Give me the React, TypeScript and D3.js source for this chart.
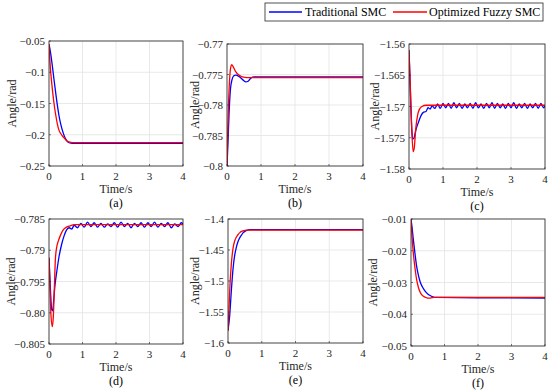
import React from "react";
import * as d3 from "d3";

type Pt = [number, number];

const timeTicks = [0, 1, 2, 3, 4];
const panelNames = ["(a)", "(b)", "(c)", "(d)", "(e)", "(f)"];
const seriesNames = ["Traditional SMC", "Optimized Fuzzy SMC"];

// y tick values / labels per panel
const aTicks = [-0.05, -0.1, -0.15, -0.2, -0.25];
const aLabels = ["−0.05", "−0.1", "−0.15", "−0.2", "−0.25"];
const bTicks = [-0.77, -0.775, -0.78, -0.785, -0.79];
const bLabels = ["−0.77", "−0.775", "−0.78", "−0.785", "−0.8"];
const cTicks = [-1.56, -1.565, -1.57, -1.575, -1.58];
const cLabels = ["−1.56", "−1.565", "−1.57", "−1.575", "−1.58"];
const dTicks = [-0.785, -0.79, -0.795, -0.8, -0.805];
const dLabels = ["−0.785", "−0.79", "−0.795", "−0.80", "−0.805"];
const eTicks = [-1.4, -1.45, -1.5, -1.55, -1.6];
const eLabels = ["−1.4", "−1.45", "−1.5", "−1.55", "−1.6"];
const fTicks = [-0.01, -0.02, -0.03, -0.04, -0.05];
const fLabels = ["−0.01", "−0.02", "−0.03", "−0.04", "−0.05"];

// (a)
const aTrad: Pt[] = [[0, -0.055], [0.05, -0.07], [0.1, -0.09], [0.15, -0.112], [0.2, -0.133], [0.25, -0.153], [0.3, -0.17], [0.35, -0.183], [0.4, -0.193], [0.45, -0.201], [0.5, -0.207], [0.55, -0.211], [0.6, -0.2128], [0.7, -0.2136], [4, -0.2136]];
const aOpt: Pt[] = [[0, -0.055], [0.03, -0.085], [0.06, -0.105], [0.1, -0.127], [0.15, -0.15], [0.2, -0.168], [0.25, -0.183], [0.3, -0.193], [0.35, -0.198], [0.4, -0.202], [0.45, -0.205], [0.5, -0.208], [0.55, -0.2105], [0.65, -0.2122], [0.75, -0.2126], [4, -0.2126]];

// (b)
const bTrad: Pt[] = [[0, -0.79], [0.03, -0.786], [0.06, -0.7815], [0.1, -0.7775], [0.15, -0.7758], [0.2, -0.7752], [0.25, -0.7751], [0.35, -0.7753], [0.45, -0.7758], [0.55, -0.7762], [0.62, -0.7761], [0.7, -0.7756], [0.8, -0.7754], [4, -0.7754]];
const bOpt: Pt[] = [[0, -0.79], [0.02, -0.785], [0.05, -0.779], [0.08, -0.7755], [0.11, -0.7738], [0.14, -0.7734], [0.18, -0.7737], [0.25, -0.7745], [0.35, -0.7751], [0.45, -0.7754], [0.6, -0.7755], [4, -0.7755]];

// (c)
const cTrad: Pt[] = [[0, -1.561], [0.04, -1.5675], [0.08, -1.5735], [0.11, -1.5752], [0.15, -1.575], [0.2, -1.5738], [0.28, -1.5725], [0.35, -1.5715], [0.43, -1.5709], [0.5, -1.5708], [0.56, -1.5702], [0.62, -1.5704], [0.68, -1.5699],
  [0.76, -1.5703], [0.84, -1.5696], [0.92, -1.5703], [1.0, -1.5695], [1.08, -1.5702], [1.16, -1.5695], [1.24, -1.5703], [1.32, -1.5694], [1.4, -1.5702], [1.48, -1.5695], [1.56, -1.5703], [1.64, -1.5696], [1.72, -1.5702], [1.8, -1.5695], [1.88, -1.5703], [1.96, -1.5694], [2.04, -1.5702], [2.12, -1.5696], [2.2, -1.5703], [2.28, -1.5695], [2.36, -1.5702], [2.44, -1.5694], [2.52, -1.5703], [2.6, -1.5695], [2.68, -1.5702], [2.76, -1.5696], [2.84, -1.5703], [2.92, -1.5695], [3.0, -1.5702], [3.08, -1.5694], [3.16, -1.5703], [3.24, -1.5696], [3.32, -1.5702], [3.4, -1.5695], [3.48, -1.5703], [3.56, -1.5696], [3.64, -1.5702], [3.72, -1.5695], [3.8, -1.5703], [3.88, -1.5695], [3.96, -1.5702], [4, -1.5699]];
const cOpt: Pt[] = [[0, -1.561], [0.04, -1.567], [0.08, -1.5735], [0.12, -1.5772], [0.15, -1.5768], [0.2, -1.5735], [0.25, -1.5715], [0.3, -1.5705], [0.38, -1.57], [0.5, -1.5698], [4, -1.5698]];

// (d)
const dTrad: Pt[] = [[0, -0.7912], [0.04, -0.796], [0.08, -0.7995], [0.11, -0.7997], [0.14, -0.798], [0.18, -0.7955], [0.23, -0.7935], [0.3, -0.791], [0.38, -0.789], [0.45, -0.7877], [0.53, -0.7867], [0.6, -0.7864], [0.68, -0.7866], [0.75, -0.786],
  [0.85, -0.7864], [0.95, -0.7857], [1.05, -0.7863], [1.15, -0.7855], [1.25, -0.7862], [1.35, -0.7856], [1.45, -0.7863], [1.55, -0.7857], [1.65, -0.7863], [1.75, -0.7858], [1.85, -0.7862], [1.95, -0.7856], [2.05, -0.7863], [2.15, -0.7855], [2.25, -0.7862], [2.35, -0.7857], [2.45, -0.7864], [2.55, -0.7857], [2.65, -0.7862], [2.75, -0.7856], [2.85, -0.7863], [2.95, -0.7856], [3.05, -0.7862], [3.15, -0.7855], [3.25, -0.7863], [3.35, -0.7857], [3.45, -0.7862], [3.55, -0.7856], [3.65, -0.7864], [3.75, -0.7858], [3.85, -0.7862], [3.95, -0.7856], [4, -0.7858]];
const dOpt: Pt[] = [[0, -0.7912], [0.03, -0.796], [0.06, -0.8005], [0.1, -0.8022], [0.13, -0.8005], [0.16, -0.796], [0.19, -0.7915], [0.23, -0.7895], [0.28, -0.7885], [0.35, -0.7875], [0.43, -0.7867], [0.52, -0.7863], [0.63, -0.7861], [0.75, -0.7859], [4, -0.7859]];

// (e)
const eTrad: Pt[] = [[0, -1.58], [0.05, -1.556], [0.1, -1.515], [0.15, -1.48], [0.2, -1.458], [0.25, -1.445], [0.3, -1.436], [0.35, -1.43], [0.4, -1.426], [0.45, -1.422], [0.5, -1.42], [0.55, -1.4185], [0.65, -1.4172], [4, -1.4172]];
const eOpt: Pt[] = [[0, -1.58], [0.03, -1.545], [0.06, -1.505], [0.1, -1.472], [0.15, -1.447], [0.2, -1.435], [0.25, -1.429], [0.3, -1.425], [0.35, -1.422], [0.4, -1.42], [0.45, -1.419], [0.55, -1.418], [4, -1.418]];

// (f)
const fTrad: Pt[] = [[0, -0.01], [0.03, -0.0125], [0.07, -0.0165], [0.12, -0.021], [0.17, -0.025], [0.22, -0.0277], [0.27, -0.0297], [0.33, -0.0312], [0.42, -0.0327], [0.5, -0.0336], [0.57, -0.0341], [0.65, -0.0345], [0.75, -0.0347], [2, -0.0348], [4, -0.0349]];
const fOpt: Pt[] = [[0, -0.01], [0.03, -0.0155], [0.07, -0.0208], [0.12, -0.0255], [0.17, -0.0292], [0.22, -0.0315], [0.27, -0.033], [0.33, -0.034], [0.42, -0.0346], [0.5, -0.0349], [0.57, -0.0349], [0.7, -0.0347], [4, -0.0347]];

const panels = [
  { ticks: aTicks, labels: aLabels, trad: aTrad, opt: aOpt, box: [49, 41, 183, 166], ylab: 12 },
  { ticks: bTicks, labels: bLabels, trad: bTrad, opt: bOpt, box: [227, 44, 363, 166], ylab: 195 },
  { ticks: cTicks, labels: cLabels, trad: cTrad, opt: cOpt, box: [409, 44, 545, 169], ylab: 375 },
  { ticks: dTicks, labels: dLabels, trad: dTrad, opt: dOpt, box: [49, 219, 183, 344], ylab: 11 },
  { ticks: eTicks, labels: eLabels, trad: eTrad, opt: eOpt, box: [228, 219, 363, 343], ylab: 195 },
  { ticks: fTicks, labels: fLabels, trad: fTrad, opt: fOpt, box: [411, 219, 545, 346], ylab: 373 },
];

const FONT = "Liberation Serif, Times New Roman, serif";
const AXIS = "#262626";
const txt = { fontFamily: FONT, fontWeight: 400 } as React.CSSProperties;

function Panel({ p, name }: { p: any; name: string }) {
  const [x0, y0, x1, y1] = p.box;
  const x = d3.scaleLinear().domain([0, 4]).range([x0, x1]);
  const y = d3.scaleLinear().domain(d3.extent(p.ticks) as [number, number]).range([y1, y0]);
  const line = d3.line<Pt>().x(d => x(d[0])).y(d => y(d[1])).curve(d3.curveMonotoneX);
  const cid = "clip" + name.replace(/\W/g, "");
  return (
    <g>
      <rect x={x0} y={y0} width={x1 - x0} height={y1 - y0} fill="#fff" />
      {timeTicks.map(t => (
        <line key={"gx" + t} x1={x(t)} x2={x(t)} y1={y0} y2={y1} stroke="#e3e3e3" strokeWidth={0.8} />
      ))}
      {p.ticks.map((t: number) => (
        <line key={"gy" + t} x1={x0} x2={x1} y1={y(t)} y2={y(t)} stroke="#e3e3e3" strokeWidth={0.8} />
      ))}
      <defs>
        <clipPath id={cid}>
          <rect x={x0} y={y0 - 1} width={x1 - x0} height={y1 - y0 + 2} />
        </clipPath>
      </defs>
      <g clipPath={`url(#${cid})`}>
        <path d={line(p.trad) || ""} fill="none" stroke="#0000ff" strokeWidth={1.3} />
        <path d={line(p.opt) || ""} fill="none" stroke="#ff0000" strokeWidth={1.3} />
      </g>
      <rect x={x0} y={y0} width={x1 - x0} height={y1 - y0} fill="none" stroke={AXIS} strokeWidth={0.8} />
      {timeTicks.map(t => (
        <g key={"tx" + t}>
          <line x1={x(t)} x2={x(t)} y1={y1} y2={y1 - 2} stroke={AXIS} strokeWidth={0.6} />
          <text x={x(t)} y={y1 + 14} textAnchor="middle" fontSize={11} fill={AXIS} style={txt}>{t}</text>
        </g>
      ))}
      {p.ticks.map((t: number, i: number) => (
        <g key={"ty" + t}>
          <line x1={x0} x2={x0 + 2} y1={y(t)} y2={y(t)} stroke={AXIS} strokeWidth={0.6} />
          <text x={x0 - 4} y={y(t) + 4} textAnchor="end" fontSize={11} fill={AXIS} style={txt}>{p.labels[i]}</text>
        </g>
      ))}
      <text x={(x0 + x1) / 2} y={y1 + 27} textAnchor="middle" fontSize={12} fill={AXIS} style={txt}>Time/s</text>
      <text x={(x0 + x1) / 2} y={y1 + 41} textAnchor="middle" fontSize={12} fill="#000" style={txt}>{name}</text>
      <text transform={`translate(${p.ylab},${(y0 + y1) / 2}) rotate(-90)`} textAnchor="middle" dy="0.35em" fontSize={12} fill={AXIS} style={txt}>Angle/rad</text>
    </g>
  );
}

export default function App() {
  return (
    <svg width={550} height={390} style={{ position: "absolute", left: 0, top: 0, background: "#fff" }}>
      {panels.map((p, i) => (
        <Panel key={i} p={p} name={panelNames[i]} />
      ))}
      <rect x={265} y={3} width={278} height={18} fill="#fff" stroke={AXIS} strokeWidth={0.8} />
      <line x1={269} x2={302} y1={12} y2={12} stroke="#0000ff" strokeWidth={1.3} />
      <text x={305} y={16} fontSize={12} fill="#000" style={txt}>{seriesNames[0]}</text>
      <line x1={393} x2={427} y1={12} y2={12} stroke="#ff0000" strokeWidth={1.3} />
      <text x={429} y={16} fontSize={12} fill="#000" style={txt}>{seriesNames[1]}</text>
    </svg>
  );
}
